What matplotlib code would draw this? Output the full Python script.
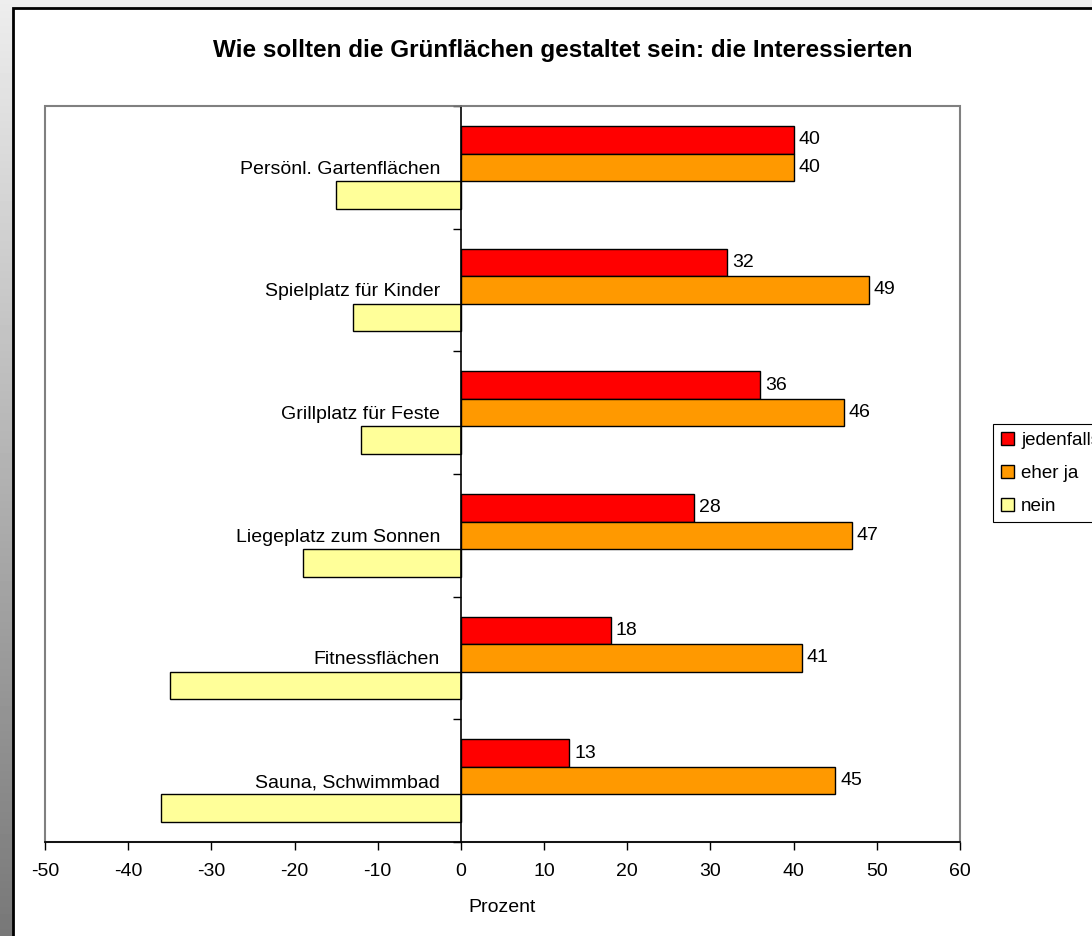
import numpy as np
import matplotlib.pyplot as plt
from matplotlib.patches import Rectangle

plt.rcParams['font.family'] = ['Liberation Sans', 'DejaVu Sans']
plt.rcParams['axes.unicode_minus'] = False

# data, top to bottom
categories = ['Persönl. Gartenflächen', 'Spielplatz für Kinder', 'Grillplatz für Feste',
              'Liegeplatz zum Sonnen', 'Fitnessflächen', 'Sauna, Schwimmbad']
jedenfalls = [40, 32, 36, 28, 18, 13]
eher_ja = [40, 49, 46, 47, 41, 45]
nein = [-15, -13, -12, -19, -35, -36]
series_names = ['jedenfalls', 'eher ja', 'nein']
colors = ['#FF0000', '#FF9900', '#FFFF99']

W, H = 1092, 936
fs = 14
fig = plt.figure(figsize=(W / 100, H / 100), dpi=100)

# gray gradient background + white panel
bg = fig.add_axes([0, 0, 1, 1], zorder=-10)
grad = np.linspace(0.93, 0.47, 256).reshape(-1, 1)
bg.imshow(grad, cmap='gray', vmin=0, vmax=1, aspect='auto', extent=[0, 1, 0, 1])
bg.add_patch(Rectangle((12.5 / W, -0.1), 1.2, 1.1 - 8.5 / H, transform=bg.transAxes,
                       facecolor='white', edgecolor='black', lw=2))
bg.set_xlim(0, 1)
bg.set_ylim(0, 1)
bg.axis('off')

left, right, top, bottom = 45, 960, 106, 842
ax = fig.add_axes([left / W, 1 - bottom / H, (right - left) / W, (bottom - top) / H])

y = np.arange(len(categories))
h = 0.224
ax.barh(y - h, jedenfalls, height=h, color=colors[0], edgecolor='black', lw=1, label=series_names[0])
ax.barh(y, eher_ja, height=h, color=colors[1], edgecolor='black', lw=1, label=series_names[1])
ax.barh(y + h, nein, height=h, color=colors[2], edgecolor='black', lw=1, label=series_names[2])

for yi, v in zip(y, jedenfalls):
    ax.text(v + 0.6, yi - h, str(v), va='center', ha='left', fontsize=fs)
for yi, v in zip(y, eher_ja):
    ax.text(v + 0.6, yi, str(v), va='center', ha='left', fontsize=fs)

ax.set_xlim(-50, 60)
ax.set_ylim(len(categories) - 0.5, -0.5)
ax.set_xticks(np.arange(-50, 61, 10))
ax.tick_params(axis='x', direction='out', length=6, width=1, labelsize=fs, pad=9)

ax.set_yticks(np.arange(-0.5, len(categories), 1.0))
ax.set_yticklabels([])
ax.tick_params(axis='y', which='major', direction='out', length=6, width=1)
ax.set_yticks(y, minor=True)
ax.set_yticklabels(categories, minor=True)
ax.tick_params(axis='y', which='minor', length=0, pad=15, labelsize=fs)

ax.spines['left'].set_position(('data', 0))
ax.spines['left'].set_color('black')
ax.spines['bottom'].set_color('black')
ax.spines['top'].set_color('#808080')
ax.spines['right'].set_color('#808080')
for s in ax.spines.values():
    s.set_linewidth(1.2)
ax.add_patch(Rectangle((0, 0), 1, 1, transform=ax.transAxes, fill=False,
                       edgecolor='#808080', lw=1.5, clip_on=False, zorder=0.5))

ax.set_xlabel('Prozent', fontsize=fs, labelpad=14)

fig.text(563 / W, 1 - 50 / H, 'Wie sollten die Grünflächen gestaltet sein: die Interessierten',
         ha='center', va='center', fontsize=17.5, fontweight='bold')

# legend runs past the right edge, as in the original
leg = fig.legend(loc='upper left', bbox_to_anchor=(993 / W, 1 - 424 / H), fontsize=13.5,
                 frameon=True, fancybox=False, edgecolor='black', framealpha=1,
                 handlelength=0.7, handleheight=0.7, handletextpad=0.4,
                 labelspacing=0.85, borderpad=0.4, borderaxespad=0)
leg.get_frame().set_linewidth(0.8)

fig.savefig('out.png', dpi=100)
